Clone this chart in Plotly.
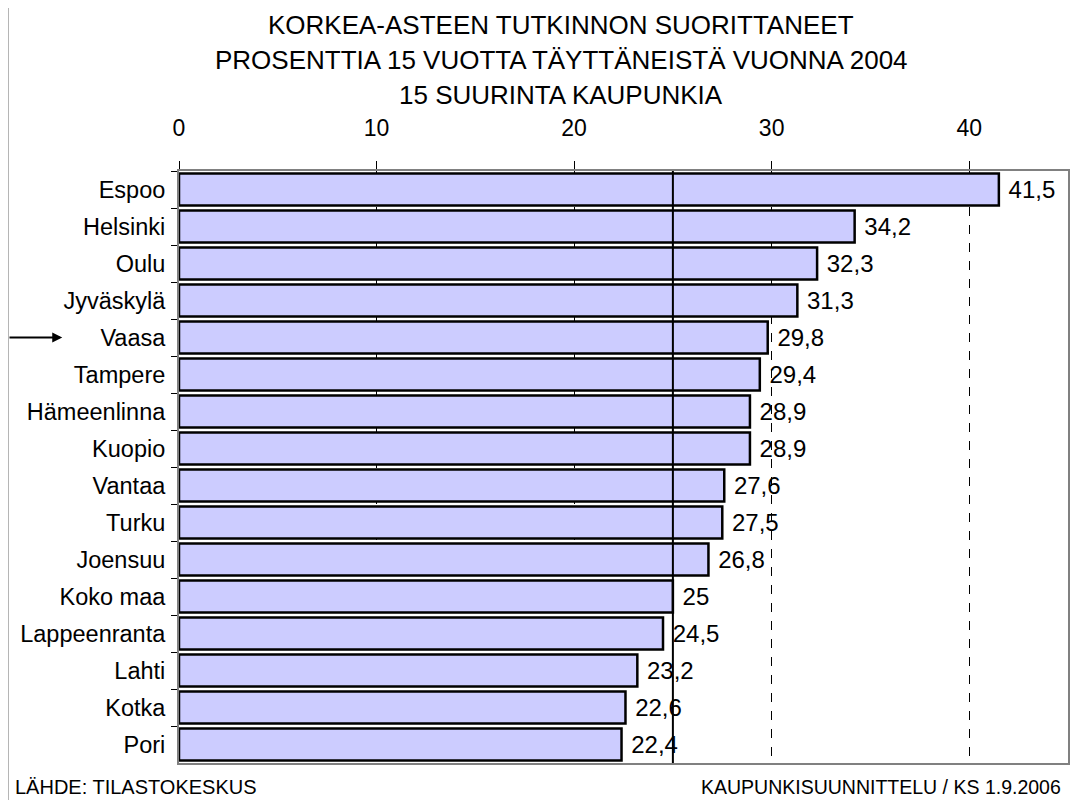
import plotly.graph_objects as go

cities = ["Espoo", "Helsinki", "Oulu", "Jyväskylä", "Vaasa", "Tampere", "Hämeenlinna",
          "Kuopio", "Vantaa", "Turku", "Joensuu", "Koko maa", "Lappeenranta", "Lahti",
          "Kotka", "Pori"]
values = [41.5, 34.2, 32.3, 31.3, 29.8, 29.4, 28.9, 28.9, 27.6, 27.5, 26.8, 25.0, 24.5,
          23.2, 22.6, 22.4]
national = 25.0
tick_vals = [0, 10, 20, 30, 40]
title_lines = ["KORKEA-ASTEEN TUTKINNON SUORITTANEET",
               "PROSENTTIA 15 VUOTTA TÄYTTÄNEISTÄ VUONNA 2004",
               "15 SUURINTA KAUPUNKIA"]
source_text = "LÄHDE: TILASTOKESKUS"
credit_text = "KAUPUNKISUUNNITTELU / KS 1.9.2006"
highlight = "Vaasa"

labels = [" " + (f"{v:.1f}".replace(".", ",") if v != int(v) else str(int(v))) for v in values]

# page body has an 8px margin; work in reference pixel coordinates and shift
OFF = 8
W, H = 1078 - OFF, 800 - OFF
L, R, T, B = 179 - OFF, 1070 - OFF, 171 - OFF, 763 - OFF
PW, PH = R - L, B - T

def px(x):
    return (x - OFF - L) / PW

def py(y):
    return (B - (y - OFF)) / PH

FONT = "Liberation Sans, Arial, sans-serif"

fig = go.Figure()
fig.add_trace(go.Bar(
    y=cities, x=values, orientation="h",
    marker=dict(color="#CCCCFF", line=dict(color="black", width=2.5)),
    text=labels, textposition="outside", cliponaxis=False, constraintext="none",
    textfont=dict(family=FONT, size=24, color="black"),
    hoverinfo="x+y",
))

annotations = []
for ycen, line in zip([25, 60.5, 95], title_lines):
    annotations.append(dict(text=line, xref="paper", yref="paper", x=px(562), y=py(ycen),
                            xanchor="center", yanchor="middle", showarrow=False,
                            font=dict(family=FONT, size=26, color="black")))
annotations.append(dict(text=source_text, xref="paper", yref="paper", x=px(13), y=py(787),
                        xanchor="left", yanchor="middle", showarrow=False,
                        font=dict(family=FONT, size=20, color="black")))
annotations.append(dict(text=credit_text, xref="paper", yref="paper", x=px(1065), y=py(787),
                        xanchor="right", yanchor="middle", showarrow=False,
                        font=dict(family=FONT, size=19.5, color="black")))
annotations.append(dict(text="", xref="paper", yref="y", x=px(62), y=highlight,
                        ax=-55, ay=0, axref="pixel", ayref="pixel", showarrow=True,
                        arrowhead=2, arrowsize=1, arrowwidth=2, arrowcolor="black"))

shapes = [
    dict(type="line", xref="x", yref="paper", x0=national, x1=national, y0=0, y1=1,
         line=dict(color="black", width=2), layer="above"),
    dict(type="rect", xref="paper", yref="paper", x0=px(7), x1=px(1095), y0=py(815), y1=py(3),
         line=dict(color="#404040", width=2), fillcolor="rgba(0,0,0,0)", layer="below"),
]

fig.update_layout(
    width=W, height=H,
    margin=dict(l=L, r=W - R, t=T, b=H - B, pad=0),
    paper_bgcolor="white", plot_bgcolor="white",
    showlegend=False, bargap=0.13,
    font=dict(family=FONT, color="black"),
    annotations=annotations, shapes=shapes,
    xaxis=dict(side="top", range=[0, 45], tickvals=tick_vals,
               showgrid=True, gridcolor="black", griddash="dash", gridwidth=1,
               showline=True, linecolor="#808080", linewidth=2, mirror=True,
               ticks="outside", ticklen=8, tickcolor="black", tickwidth=1,
               ticklabelstandoff=16,
               tickfont=dict(family=FONT, size=23, color="black"), zeroline=False),
    yaxis=dict(autorange="reversed", tickson="boundaries",
               showline=True, linecolor="#808080", linewidth=2, mirror=True,
               ticks="outside", ticklen=6, tickcolor="black", tickwidth=1,
               ticklabelstandoff=7,
               tickfont=dict(family=FONT, size=23.5, color="black"), showgrid=False),
)

fig.write_html("out.html")
